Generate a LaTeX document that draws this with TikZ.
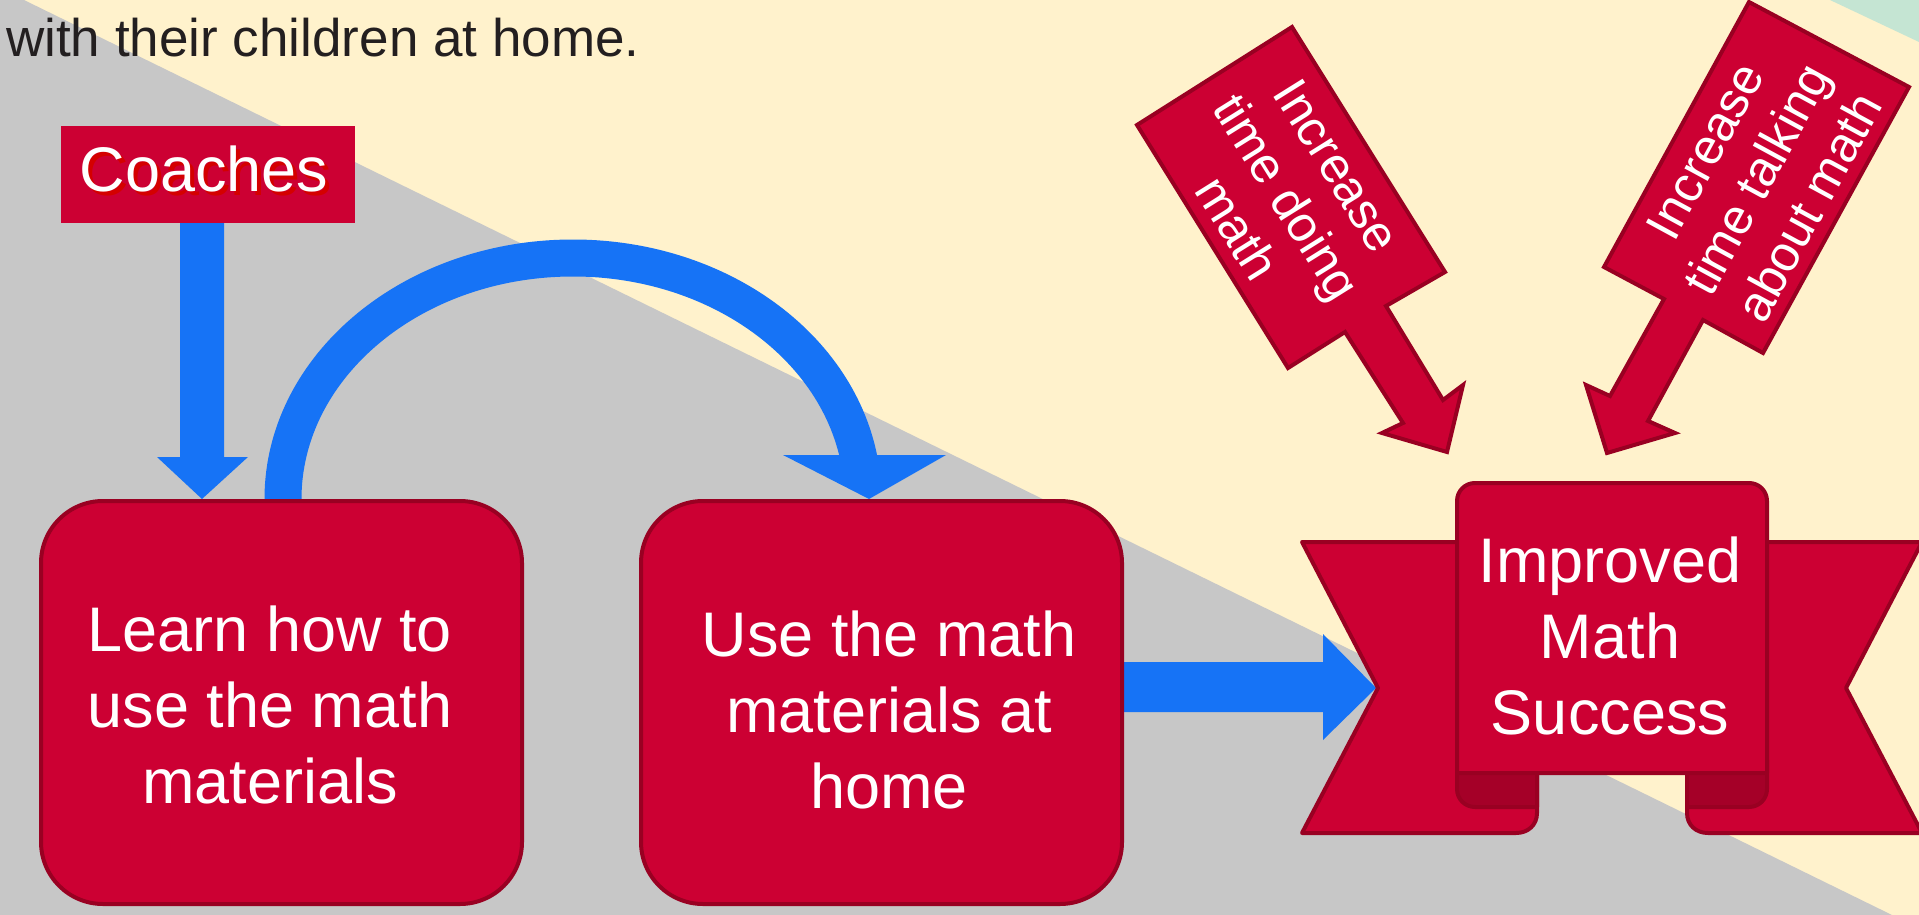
\documentclass[tikz,border=0pt]{standalone}
\usepackage{fontspec}
\setmainfont{Liberation Sans}
\definecolor{bgyellow}{RGB}{255,242,204}
\definecolor{bggray}{RGB}{199,199,199}
\definecolor{mint}{RGB}{197,229,211}
\definecolor{crim}{RGB}{204,0,51}
\definecolor{cborder}{RGB}{153,0,34}
\definecolor{cfold}{RGB}{165,0,40}
\definecolor{arrowblue}{RGB}{22,115,246}
\definecolor{shadowred}{RGB}{212,0,0}
\definecolor{txtdark}{RGB}{35,31,32}
\begin{document}
\begin{tikzpicture}[x=1pt,y=-1pt,
  redbox/.style={draw=cborder, fill=crim, line width=4pt, rounded corners=62pt,
    minimum width=481pt, minimum height=403pt, inner sep=0pt},
  boxtext/.style={text=white, align=center, inner sep=0pt, font=\fontsize{63}{76}\selectfont},
  ptext/.style={text=white, align=center, inner sep=0pt, font=\fontsize{50}{59}\selectfont},
  pointer/.style={fill=crim, draw=cborder, line width=4pt, line join=miter},
  ribbon/.style={fill=crim, draw=cborder, line width=4pt, line join=round},
  fold/.style={fill=cfold, draw=cborder, line width=4pt, line join=round},
  blockarrow/.style={fill=arrowblue}
]
\useasboundingbox (0,0) rectangle (1919,915);
% background
\fill[bgyellow] (0,0) rectangle (1919,915);
\fill[bggray] (0,0) -- (24,0) -- (1892,915) -- (0,915) -- cycle;
\fill[mint] (1830,0) -- (1919,0) -- (1919,42) -- cycle;

% intro text
\node[anchor=base west, text=txtdark, inner sep=0pt, font=\fontsize{53}{64}\selectfont] (intro) at (6,57) {with their children at home.};

% Coaches box
\node[fill=crim, minimum width=294pt, minimum height=97pt, inner sep=0pt] (coach) at (208,174.5) {};
\node[anchor=base, text=shadowred, inner sep=0pt, font=\fontsize{63}{76}\selectfont] (coachshadow) at (208,195) {Coaches};
\node[anchor=base, text=white, inner sep=0pt, font=\fontsize{63}{76}\selectfont] (coachtext) at (204,191) {Coaches};

% connectors
\coordinate (dA) at (202,223);
\fill[blockarrow] (dA) ++(-22,0) -- ++(44,0) -- ++(0,234) -- ++(24,0) -- (202,499) -- (157,457) -- (180,457) -- cycle;

\coordinate (arcstart) at (283,499);
\draw[arrowblue, line width=37pt] (arcstart) arc[start angle=180, end angle=352, x radius=290, y radius=241];
\fill[blockarrow] (783,455) -- (946,455) -- (869,499) -- cycle;

\coordinate (rA) at (1121,687);
\fill[blockarrow] (rA) ++(0,-25) -- (1323,662) -- (1323,634) -- (1376,688) -- (1323,740) -- (1323,712) -- (1121,712) -- cycle;

% boxes
\node[redbox] (learn) at (281.5,702.5) {};
\node[boxtext] (learntext) at (270,705) {Learn how to\\use the math\\materials};
\node[redbox] (use) at (881.5,702.5) {};
\node[boxtext] (usetext) at (889,710) {Use the math\\materials at\\home};

% ribbon
\path[ribbon] (1302,542) -- (1490,542) -- (1490,760) -- (1537,760) -- (1537,813)
  .. controls (1537,825) and (1528,833) .. (1516,833) -- (1302,833) -- (1378,688) -- cycle;
\path[ribbon] (1922,542) -- (1734,542) -- (1734,760) -- (1687,760) -- (1687,813)
  .. controls (1687,825) and (1696,833) .. (1708,833) -- (1922,833) -- (1846,688) -- cycle;
\path[fold] (1457,760) -- (1537,760) -- (1537,807) -- (1475,807)
  .. controls (1465,807) and (1457,799) .. (1457,789) -- cycle;
\path[fold] (1767,760) -- (1687,760) -- (1687,807) -- (1749,807)
  .. controls (1759,807) and (1767,799) .. (1767,789) -- cycle;
\path[ribbon] (1457,773) -- (1457,501) .. controls (1457,491) and (1465,483) .. (1475,483)
  -- (1749,483) .. controls (1759,483) and (1767,491) .. (1767,501) -- (1767,773) -- cycle;
\node[boxtext] (success) at (1610,636) {Improved\\Math\\Success};

% pointing arrows
\path[pointer] (1292,27) -- (1445,272) -- (1386,306) -- (1443,400) -- (1463,385) -- (1447,452)
  -- (1382,433) -- (1403,423) -- (1345,332) -- (1288,368) -- (1137,125) -- cycle;
\node[ptext, rotate=-58] (doing) at (1287,197) {Increase\\time doing\\math};

\path[pointer] (1749,2) -- (1909,87) -- (1763,353) -- (1703,320) -- (1648,421) -- (1675,433)
  -- (1607,453) -- (1586,385) -- (1610,396) -- (1664,299) -- (1604,267) -- cycle;
\node[ptext, rotate=61.5] (talking) at (1757,179) {Increase\\time talking\\about math};
\end{tikzpicture}
\end{document}
